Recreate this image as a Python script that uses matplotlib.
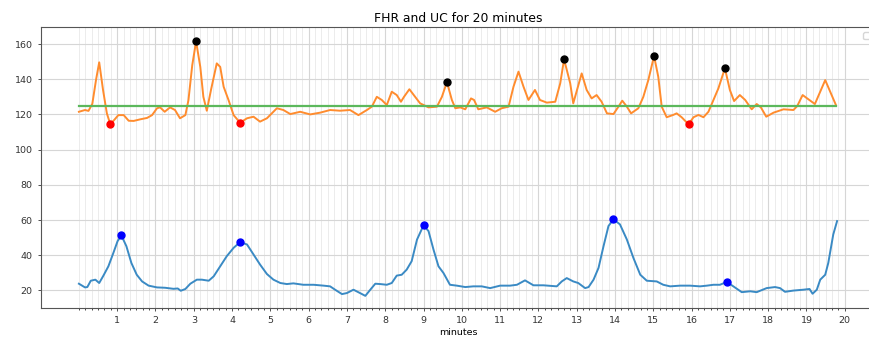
import numpy as np
import matplotlib
matplotlib.use("Agg")
import matplotlib.pyplot as plt

# ---- data ----
fhr_min = [0.00, 0.16, 0.25, 0.35, 0.45, 0.53, 0.63, 0.73, 0.82, 0.92, 1.03, 1.17, 1.30, 1.43,
           1.60, 1.78, 1.91, 2.04, 2.12, 2.24, 2.38, 2.51, 2.64, 2.78, 2.86, 2.96, 3.06, 3.17,
           3.25, 3.34, 3.45, 3.60, 3.69, 3.78, 3.91, 4.04, 4.21, 4.39, 4.56, 4.73, 4.91, 5.17,
           5.34, 5.52, 5.78, 6.04, 6.30, 6.56, 6.82, 7.08, 7.30, 7.52, 7.65, 7.78, 7.91, 8.04,
           8.17, 8.30, 8.41, 8.49, 8.63, 8.78, 8.91, 9.13, 9.35, 9.48, 9.61, 9.74, 9.83, 9.96,
           10.09, 10.24, 10.32, 10.43, 10.65, 10.87, 11.04, 11.22, 11.35, 11.48, 11.61, 11.74,
           11.91, 12.04, 12.22, 12.44, 12.57, 12.67, 12.83, 12.91, 13.13, 13.26, 13.39, 13.52,
           13.65, 13.79, 13.96, 14.09, 14.19, 14.31, 14.42, 14.61, 14.74, 14.87, 15.02, 15.13,
           15.22, 15.35, 15.52, 15.61, 15.74, 15.92, 16.05, 16.18, 16.31, 16.44, 16.57, 16.70,
           16.87, 17.00, 17.11, 17.26, 17.40, 17.57, 17.70, 17.81, 17.95, 18.14, 18.40, 18.66,
           18.76, 18.90, 19.05, 19.22, 19.34, 19.49, 19.62, 19.77]
fhr_bpm = [121.5, 122.5, 122.0, 126.0, 140.0, 149.6, 133.9, 120.6, 114.4, 116.8, 119.6, 119.6,
           116.4, 116.3, 117.2, 118.0, 119.6, 123.5, 124.0, 121.5, 124.0, 122.5, 117.8, 119.6,
           128.0, 148.0, 161.5, 147.0, 130.0, 122.1, 134.0, 149.0, 147.0, 135.7, 128.0, 119.6,
           115.3, 117.8, 118.7, 115.9, 117.8, 123.5, 122.5, 120.2, 121.5, 120.0, 121.0, 122.5,
           122.1, 122.5, 119.6, 122.5, 124.4, 130.0, 128.2, 125.3, 132.9, 131.0, 127.2, 130.0,
           134.3, 130.0, 126.3, 124.0, 124.4, 130.0, 138.4, 128.2, 123.5, 124.0, 122.9, 129.1,
           128.2, 122.9, 124.0, 121.5, 123.5, 124.4, 135.8, 144.3, 135.8, 128.2, 133.9, 128.2,
           126.7, 127.2, 137.7, 151.3, 137.7, 126.3, 143.3, 133.9, 129.1, 131.0, 127.2, 120.6,
           120.2, 124.4, 127.8, 124.4, 120.6, 123.5, 130.0, 139.5, 153.2, 141.4, 124.4, 118.4,
           119.7, 120.6, 118.4, 114.4, 118.4, 119.7, 118.4, 121.5, 128.2, 134.8, 146.2, 133.9,
           127.6, 131.0, 128.2, 122.9, 125.9, 124.0, 118.7, 121.0, 122.9, 122.5, 124.8, 131.0,
           128.6, 125.9, 132.0, 139.5, 132.9, 125.3]

uc_min = [0.00, 0.16, 0.22, 0.31, 0.43, 0.53, 0.64, 0.77, 0.90, 1.01, 1.11, 1.24, 1.37, 1.51,
          1.65, 1.82, 2.04, 2.25, 2.47, 2.58, 2.66, 2.78, 2.91, 3.08, 3.21, 3.39, 3.52, 3.69,
          3.86, 4.04, 4.21, 4.39, 4.56, 4.73, 4.91, 5.08, 5.26, 5.43, 5.60, 5.86, 6.13, 6.39,
          6.56, 6.69, 6.87, 7.00, 7.17, 7.34, 7.48, 7.61, 7.74, 7.87, 8.04, 8.17, 8.30, 8.43,
          8.56, 8.69, 8.83, 9.00, 9.13, 9.26, 9.39, 9.52, 9.69, 9.87, 10.09, 10.30, 10.52,
          10.74, 11.00, 11.26, 11.44, 11.65, 11.87, 12.13, 12.48, 12.61, 12.74, 12.91, 13.04,
          13.22, 13.31, 13.44, 13.57, 13.70, 13.83, 13.96, 14.13, 14.31, 14.48, 14.66, 14.83,
          15.09, 15.26, 15.44, 15.70, 15.96, 16.22, 16.40, 16.57, 16.74, 16.92, 17.09, 17.31,
          17.53, 17.70, 17.96, 18.18, 18.31, 18.44, 18.66, 18.92, 19.08, 19.16, 19.27, 19.36,
          19.49, 19.57, 19.70, 19.80]
uc_mmhg = [23.8, 21.7, 21.9, 25.5, 26.1, 24.2, 28.4, 33.7, 41.3, 48.0, 51.2, 45.1, 35.6, 28.9,
           25.1, 22.7, 21.7, 21.5, 20.9, 21.1, 19.8, 20.8, 23.8, 26.1, 26.1, 25.5, 28.0, 33.7,
           39.4, 44.2, 47.4, 46.1, 40.4, 34.7, 29.3, 26.1, 24.2, 23.6, 24.0, 23.2, 23.2, 22.7,
           22.3, 20.4, 17.9, 18.5, 20.4, 18.5, 16.9, 20.4, 23.8, 23.6, 23.2, 24.2, 28.4, 28.9,
           31.8, 36.6, 48.9, 57.0, 53.7, 43.2, 33.7, 29.9, 23.2, 22.7, 21.9, 22.3, 22.3, 21.3,
           22.7, 22.7, 23.2, 25.7, 22.9, 22.9, 22.3, 25.1, 27.0, 25.1, 24.2, 21.3, 21.9, 26.1,
           32.8, 45.1, 56.6, 60.4, 57.5, 48.9, 38.5, 28.9, 25.5, 25.1, 23.2, 22.3, 22.7, 22.7,
           22.3, 22.7, 23.2, 23.2, 24.8, 22.3, 19.0, 19.5, 19.0, 21.3, 21.9, 21.3, 19.2, 19.9,
           20.4, 20.8, 18.1, 20.4, 26.1, 28.9, 35.6, 51.8, 59.4]

baseline_bpm = 125
baseline_span = [0.0, 19.77]

accel_min = [3.06, 9.61, 12.67, 15.02, 16.87]
accel_bpm = [161.5, 138.4, 151.3, 153.2, 146.2]
decel_min = [0.82, 4.21, 15.92]
decel_bpm = [114.4, 115.3, 114.4]
uc_peak_min = [1.11, 4.21, 9.00, 13.96, 16.92]
uc_peak_mmhg = [51.2, 47.4, 57.0, 60.4, 24.8]

major_ticks = list(range(1, 21))
minor_step = 1 / 6

# ---- figure ----
fig = plt.figure(figsize=(8.69, 3.40), dpi=100)
ax = fig.add_axes([41 / 869, 32 / 340, 834 / 869, 280.7 / 340])

ax.plot(uc_min, uc_mmhg, color="#3a8ac4", lw=1.4)
ax.plot(fhr_min, fhr_bpm, color="#ff8c2e", lw=1.4)
ax.plot(baseline_span, [baseline_bpm, baseline_bpm], color="#5cb85c", lw=1.6)
ax.plot(accel_min, accel_bpm, "o", color="black", ms=5)
ax.plot(decel_min, decel_bpm, "o", color="red", ms=5)
ax.plot(uc_peak_min, uc_peak_mmhg, "o", color="blue", ms=5)

ax.set_xlim(-0.99, 20.79)
ax.set_ylim(10, 169.5)
ax.set_xticks(major_ticks)
ax.set_xticks(np.arange(0, 20 + 1e-9, minor_step), minor=True)
ax.set_yticks(range(20, 161, 20))
ax.tick_params(labelsize=6.8, length=2.5, width=0.6, colors="#333333")
ax.tick_params(which="minor", length=1.5, width=0.5)
ax.grid(which="major", color="#d6d6d6", lw=0.8)
ax.grid(which="minor", axis="x", color="#ececec", lw=0.7)
ax.set_axisbelow(True)
for s in ax.spines.values():
    s.set_linewidth(0.8)
    s.set_color("#555555")

ax.set_title("FHR and UC for 20 minutes", fontsize=8.9, pad=4)
ax.set_xlabel("minutes", fontsize=6.8, labelpad=2)
ax.legend(handles=[], loc="upper right", fontsize=6.7)

fig.savefig("out.png", dpi=100)
